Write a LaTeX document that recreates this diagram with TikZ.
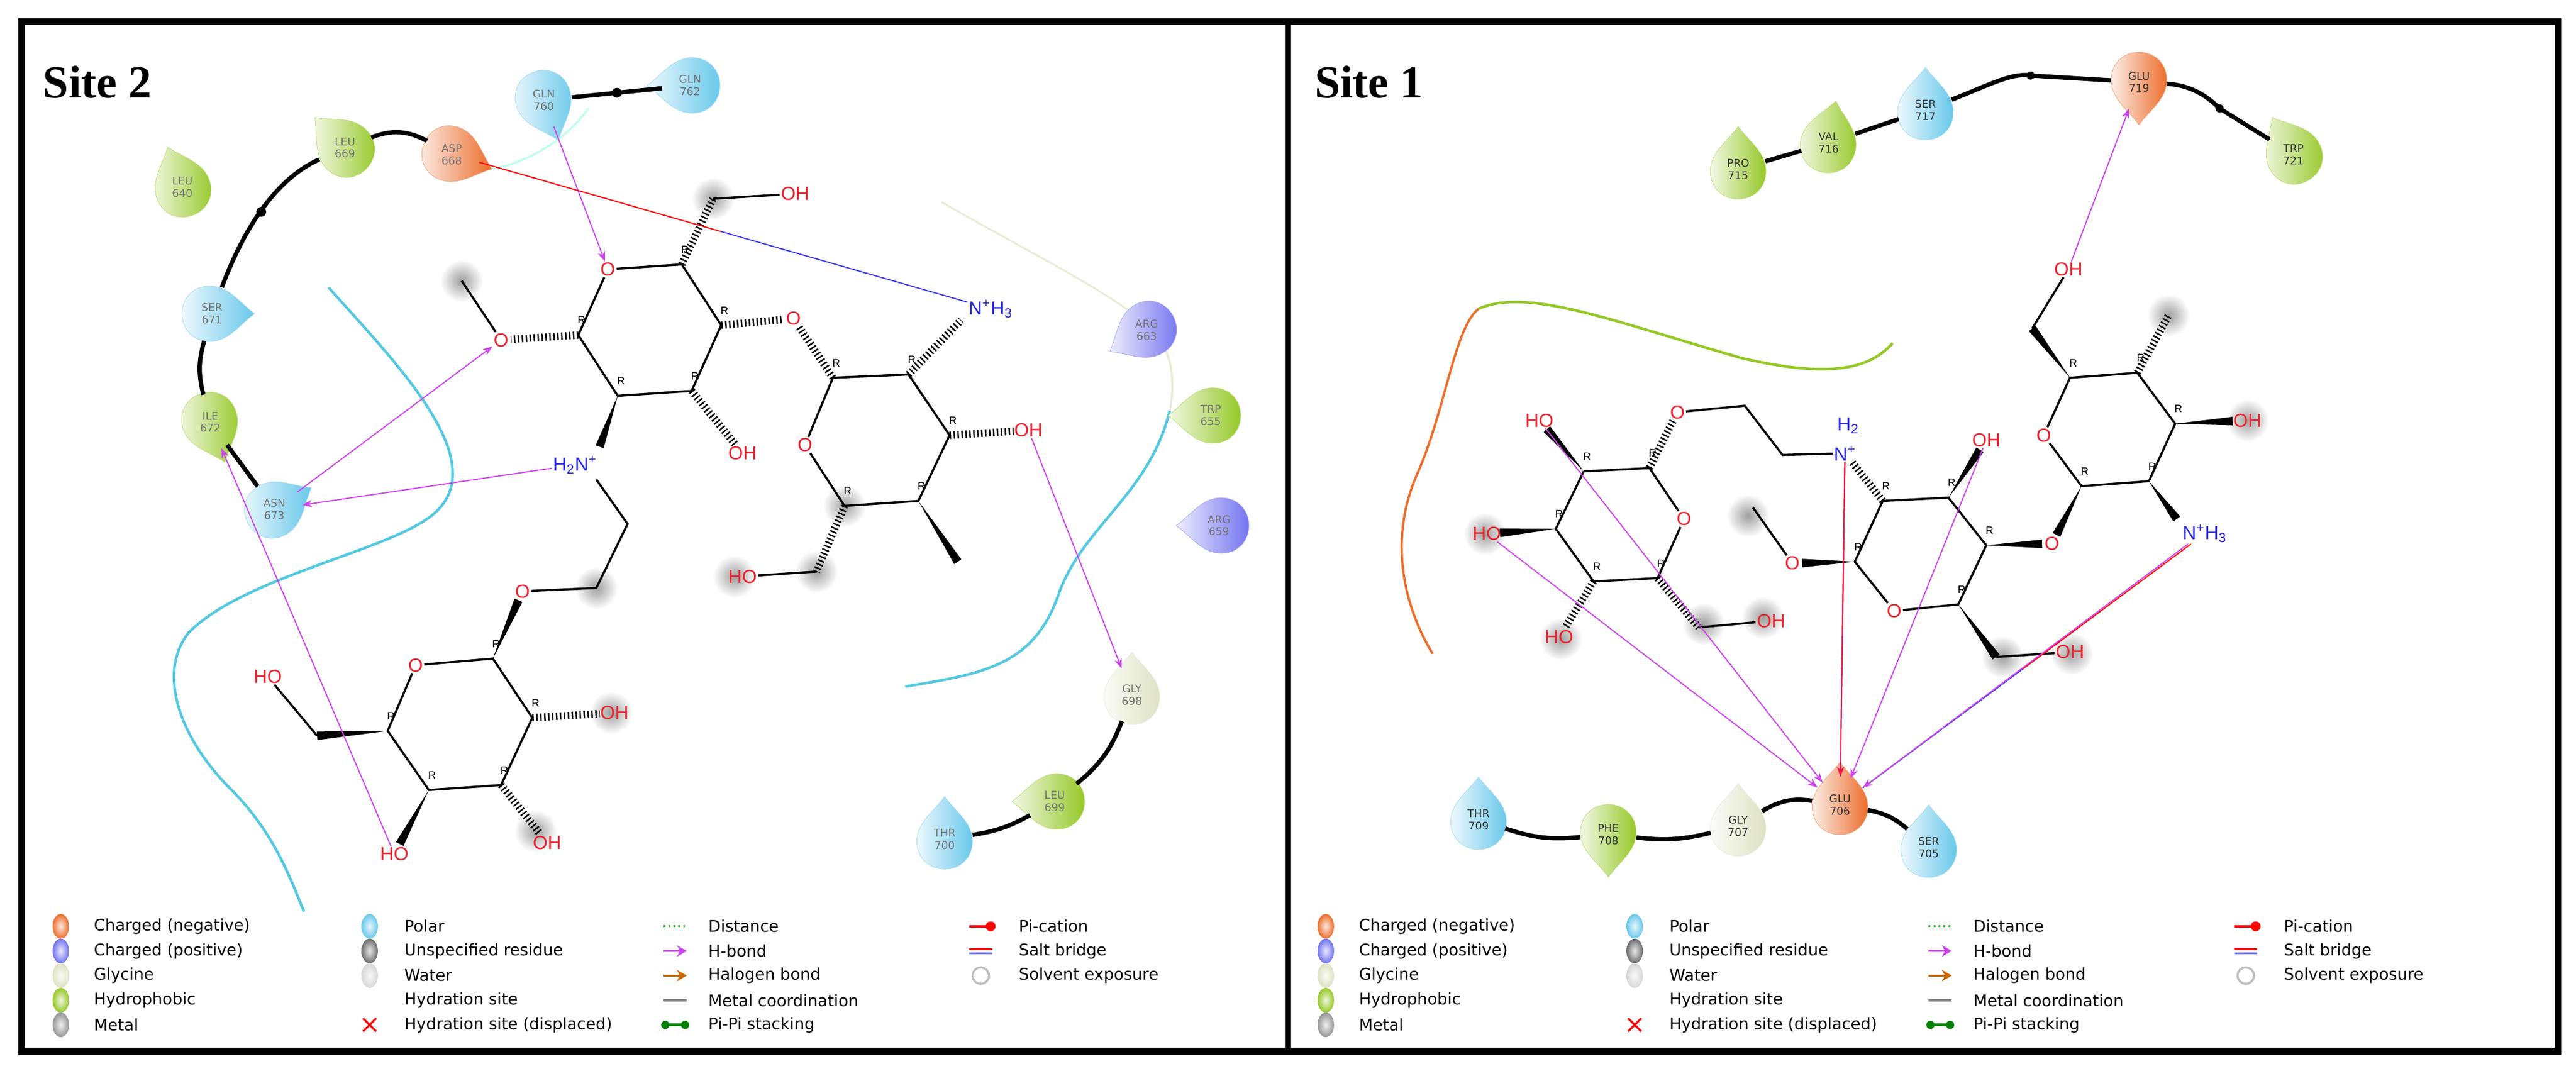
\documentclass[tikz,border=0pt]{standalone}
\usepackage{fontspec}
\setmainfont{Liberation Serif}
\newfontfamily\sansf{Liberation Sans}
\newfontfamily\lgf{DejaVu Sans}
\usetikzlibrary{calc,arrows.meta}
\definecolor{cneg}{RGB}{235,110,45}
\definecolor{cpos}{RGB}{115,115,240}
\definecolor{cgly}{RGB}{222,226,195}
\definecolor{chyd}{RGB}{150,200,40}
\definecolor{cpol}{RGB}{105,200,235}
\definecolor{cuns}{RGB}{110,110,110}
\definecolor{cwat}{RGB}{215,215,215}
\definecolor{cmet}{RGB}{150,150,150}
\definecolor{hb}{RGB}{205,70,235}
\definecolor{ored}{RGB}{235,35,45}
\definecolor{nblue}{RGB}{35,35,225}
\definecolor{solc}{RGB}{85,200,225}
\tikzset{
 atom/.style={font=\sansf\fontsize{11.5}{11.5}\selectfont, inner sep=0.6pt},
 ox/.style={atom,text=ored},
 nit/.style={atom,text=nblue},
 rl/.style={font=\sansf\fontsize{6.5}{6.5}\selectfont, inner sep=0pt},
 bond/.style={line width=1.3},
 hsh/.style={line width=4.5, dash pattern=on 0.9pt off 1.5pt},
 bb/.style={line width=2.6},
 arr/.style={hb, line width=0.7, -{Stealth[length=6,width=4.5]}},
 reslab/.style={circle, minimum size=34, inner sep=0, align=center, font=\lgf\fontsize{6.5}{7.5}\selectfont, text=black!55},
 lg/.style={anchor=west, inner sep=0, font=\lgf\fontsize{9.8}{9.8}\selectfont},
}
\newcommand\res[5]{%
 \begin{scope}[shift={#2},rotate=#3,scale=1.3]
 \shade[left color=#4!12!white, right color=#4, draw=#4!60, line width=0.3]
 (0,-20) .. controls (-5,-13) and (-13,-8) .. (-13,1) .. controls (-13,9) and (-7,14) .. (0,14)
 .. controls (7,14) and (13,9) .. (13,1) .. controls (13,-8) and (5,-13) .. (0,-20) -- cycle;
 \end{scope}
 \node[reslab] (#1) at #2 {#5};}
\newcommand\Cc[2]{\coordinate (#1) at (#2); \node[rl] at ($(#1)+(2,-9)$) {R};}
\newcommand\wdg[3]{\fill (#1) -- ($($(#2)!#3!(#1)$)!2.6pt!90:(#1)$) -- ($($(#2)!#3!(#1)$)!2.6pt!-90:(#1)$) -- cycle;}
\newcommand\hs[3]{\draw[hsh] (#1) -- ($(#2)!#3!(#1)$);}
\newcommand\halo[2]{\shade[inner color=black!38, outer color=white] (#1,#2) circle (13);}
\newcommand\sbr[2]{\draw[red, line width=0.7] (#1) -- ($(#1)!.5!(#2)$); \draw[nblue!70!cpos, line width=0.7] ($(#1)!.5!(#2)$) -- (#2);}
\newcommand\lball[3]{\shade[inner color=#1!15!white, outer color=#1, draw=none] (#2,#3) ellipse (5 and 7.5);}
\begin{document}
\begin{tikzpicture}[x=1pt,y=-1pt]
\useasboundingbox (0,0) rectangle (1568,655);
\fill[white] (0,0) rectangle (1568,655);
% ================= LEFT PANEL =================
\foreach \hx/\hy in {281/171,434/121,447/351,497/348,372/434,326/506,514/308,363/358} {\halo{\hx}{\hy}}
\draw[solc, line width=1.6] (200,175) .. controls (240,220) and (300,280) .. (265,312) .. controls (240,335) and (150,350) .. (115,385) .. controls (95,410) and (110,450) .. (140,480) .. controls (165,505) and (175,530) .. (185,555);
\draw[solc, line width=1.6] (551,418) .. controls (600,410) and (630,405) .. (645,360) .. controls (660,320) and (700,300) .. (712,250);
\draw[cgly!70, line width=1.2] (712,250) .. controls (716,230) and (712,215) .. (705,205);
\draw[cgly!70, line width=1.0] (573,123) .. controls (620,150) and (670,175) .. (695,195);
\draw[green!30!cyan!25, line width=1.2] (298,103) .. controls (320,100) and (345,85) .. (358,66);
\node[font=\bfseries\fontsize{28}{28}\selectfont, anchor=west, inner sep=0] (t2) at (26,50) {Site 2};
% ring A
\node[ox] (oA) at (370,164) {O};
\Cc{a1}{415,161} \Cc{a2}{439,198} \Cc{a3}{421,238} \Cc{a4}{376,241} \Cc{a5}{352,204}
\draw[bond] (oA) -- (a1) -- (a2) -- (a3) -- (a4) -- (a5) -- (oA);
\coordinate (ach) at (434,121);
\node[ox] (ohA) at (484,118) {OH};
\hs{a1}{ach}{0pt} \draw[bond] (ach) -- (ohA);
\node[ox] (oL) at (483,194) {O};
\hs{a2}{oL}{6pt}
\node[ox] (ohA3) at (452,276) {OH};
\hs{a3}{ohA3}{7pt}
\node[nit] (nA) at (350,283) {H\textsubscript{2}N\textsuperscript{+}};
\wdg{a4}{365,272}{0pt}
\node[ox] (oM) at (305,207) {O};
\hs{a5}{oM}{6pt}
\coordinate (me1) at (281,171);
\draw[bond] (oM) -- (me1);
% ring B
\node[ox] (oB) at (490,271) {O};
\Cc{b1}{507,230} \Cc{b2}{553,228} \Cc{b3}{578,265} \Cc{b4}{559,305} \Cc{b5}{514,308}
\draw[bond] (oB) -- (b1) -- (b2) -- (b3) -- (b4) -- (b5) -- (oB);
\hs{b1}{oL}{6pt}
\node[nit] (nB) at (603,188) {N\textsuperscript{+}H\textsubscript{3}};
\hs{b2}{585,195}{0pt}
\node[ox] (ohB) at (626,262) {OH};
\hs{b3}{ohB}{9pt}
\wdg{b4}{583,342}{0pt}
\coordinate (bch) at (497,348);
\hs{b5}{bch}{0pt}
\node[ox] (hoB) at (452,351) {HO};
\draw[bond] (bch) -- (hoB);
% chain + ring C
\coordinate (ch1) at (382,319); \coordinate (ch2) at (363,358);
\node[ox] (oC) at (318,360) {O};
\draw[bond] (363,292) -- (ch1) -- (ch2) -- (oC);
\node[ox] (oRC) at (253,405) {O};
\Cc{c1}{300,401} \Cc{c2}{324,437} \Cc{c3}{305,478} \Cc{c4}{261,481} \Cc{c5}{236,445}
\draw[bond] (oRC) -- (c1) -- (c2) -- (c3) -- (c4) -- (c5) -- (oRC);
\wdg{c1}{oC}{6pt}
\coordinate (cch) at (193,448);
\wdg{c5}{cch}{0pt}
\node[ox] (hoC6) at (163,412) {HO};
\draw[bond] (cch) -- (hoC6);
\node[ox] (hoC4) at (240,520) {HO};
\wdg{c4}{hoC4}{7pt}
\node[ox] (ohC3) at (333,513) {OH};
\hs{c3}{ohC3}{7pt}
\node[ox] (ohC2) at (374,434) {OH};
\hs{c2}{ohC2}{9pt}
% residues left
\res{g760}{(331,61)}{200}{cpol}{GLN\\760}
\res{g762}{(420,52)}{90}{cpol}{GLN\\762}
\res{l669}{(210,90)}{45}{chyd}{LEU\\669}
\res{a668}{(275,94)}{250}{cneg}{ASP\\668}
\res{l640}{(111,114)}{20}{chyd}{LEU\\640}
\res{s671}{(129,191)}{270}{cpol}{SER\\671}
\res{i672}{(128,257)}{200}{chyd}{ILE\\672}
\res{n673}{(167,310)}{300}{cpol}{ASN\\673}
\res{r663}{(698,201)}{120}{cpos}{ARG\\663}
\res{w655}{(737,253)}{90}{chyd}{TRP\\655}
\res{r659}{(742,320)}{90}{cpos}{ARG\\659}
\res{g698}{(689,423)}{0}{cgly}{GLY\\698}
\res{l699}{(642,488)}{90}{chyd}{LEU\\699}
\res{t700}{(575,511)}{0}{cpol}{THR\\700}
\draw[bb] (g760) -- (g762); \fill ($(g760)!.5!(g762)$) circle (3);
\draw[bb] (l669) to[bend left=25] (a668);
\draw[bb] (l669) .. controls (170,108) and (150,135) .. (s671); \fill (159,129) circle (3);
\draw[bb] (s671) to[bend right=15] (i672);
\draw[bb] (i672) -- (n673);
\draw[bb] (g698) to[bend left=15] (l699);
\draw[bb] (l699) to[bend left=10] (t700);
% interactions left
\draw[arr] (g760) -- (oA);
\sbr{a668}{nB}
\draw[arr] (nA) -- (n673);
\draw[arr] (n673) -- (oM);
\draw[arr] (hoC4) -- (i672);
\draw[arr] (ohB) -- (g698);
% ================= RIGHT PANEL =================
\foreach \hx/\hy in {1320/192,1037/380,1073/376,950/389,1219/400,1261/398,1368/256,1064/314,904/325} {\halo{\hx}{\hy}}
\draw[cneg, line width=1.4] (900,188) .. controls (885,200) and (880,250) .. (862,290) .. controls (845,330) and (855,370) .. (872,398);
\draw[chyd, line width=1.6] (900,188) .. controls (930,175) and (980,195) .. (1060,218) .. controls (1120,232) and (1140,222) .. (1152,209);
\node[font=\bfseries\fontsize{28}{28}\selectfont, anchor=west, inner sep=0] (t1) at (800,50) {Site 1};
% ring D
\node[ox] (oD) at (1025,316) {O};
\Cc{d1}{964,287} \Cc{d2}{1004,285} \Cc{d3}{1009,352} \Cc{d4}{970,354} \Cc{d5}{947,322}
\draw[bond] (d1) -- (d2) -- (oD) -- (d3) -- (d4) -- (d5) -- (d1);
\node[ox] (hoD1) at (937,256) {HO};
\wdg{d1}{hoD1}{7pt}
\node[ox] (oE) at (1021,251) {O};
\hs{d2}{oE}{6pt}
\coordinate (e1a) at (1062,247); \coordinate (e1b) at (1085,277);
\node[nit] (nE) at (1123,276) {N\textsuperscript{+}};
\node[nit] (h2E) at (1125,259) {H\textsubscript{2}};
\draw[bond] (oE) -- (e1a) -- (e1b) -- (nE);
\coordinate (dch) at (1034,382);
\hs{d3}{dch}{0pt}
\node[ox] (ohD) at (1078,378) {OH};
\draw[bond] (dch) -- (ohD);
\node[ox] (hoD4) at (949,388) {HO};
\hs{d4}{hoD4}{7pt}
\node[ox] (hoD5) at (905,325) {HO};
\wdg{d5}{hoD5}{8pt}
% ring E
\node[ox] (oE2) at (1153,372) {O};
\Cc{e1}{1146,305} \Cc{e2}{1186,303} \Cc{e3}{1209,332} \Cc{e4}{1192,368} \Cc{e5}{1129,342}
\draw[bond] (e1) -- (e2) -- (e3) -- (e4) -- (oE2) -- (e5) -- (e1);
\hs{e1}{nE}{6pt}
\node[ox] (ohE2) at (1209,268) {OH};
\wdg{e2}{ohE2}{7pt}
\node[ox] (oF) at (1249,331) {O};
\wdg{e3}{oF}{6pt}
\coordinate (ech) at (1215,400);
\wdg{e4}{ech}{0pt}
\node[ox] (ohE4) at (1260,397) {OH};
\draw[bond] (ech) -- (ohE4);
\node[ox] (oMe) at (1091,343) {O};
\wdg{e5}{oMe}{6pt}
\coordinate (me2) at (1067,309);
\draw[bond] (oMe) -- (me2);
% ring F
\node[ox] (oRF) at (1244,265) {O};
\Cc{f1}{1260,230} \Cc{f2}{1301,227} \Cc{f3}{1324,258} \Cc{f4}{1308,293} \Cc{f5}{1267,296}
\draw[bond] (oRF) -- (f1) -- (f2) -- (f3) -- (f4) -- (f5) -- (oRF);
\coordinate (fch) at (1237,200);
\wdg{f1}{fch}{0pt}
\node[ox] (ohF) at (1259,164) {OH};
\draw[bond] (fch) -- (ohF);
\hs{f2}{1320,192}{0pt}
\node[ox] (ohF3) at (1368,256) {OH};
\wdg{f3}{ohF3}{9pt}
\node[nit] (nF) at (1342,325) {N\textsuperscript{+}H\textsubscript{3}};
\wdg{f4}{1325,316}{0pt}
\wdg{f5}{oF}{6pt}
% residues right
\begin{scope}[reslab/.append style={text=black!80}]
\res{p715}{(1058,103)}{0}{chyd}{PRO\\715}
\res{v716}{(1113,87)}{350}{chyd}{VAL\\716}
\res{s717}{(1172,67)}{0}{cpol}{SER\\717}
\res{e719}{(1302,50)}{180}{cneg}{GLU\\719}
\res{w721}{(1396,94)}{30}{chyd}{TRP\\721}
\res{t709}{(900,499)}{0}{cpol}{THR\\709}
\res{f708}{(979,508)}{180}{chyd}{PHE\\708}
\res{g707}{(1058,503)}{0}{cgly}{GLY\\707}
\res{e706}{(1120,490)}{0}{cneg}{GLU\\706}
\res{s705}{(1174,516)}{0}{cpol}{SER\\705}
\end{scope}
\draw[bb] (p715) -- (v716); \draw[bb] (v716) -- (s717);
\draw[bb] (s717) .. controls (1210,52) and (1225,44) .. (1236,46) -- (e719); \fill (1236,46) circle (2.5);
\draw[bb] (e719) .. controls (1335,52) and (1345,60) .. (1351,66) -- (w721); \fill (1351,66) circle (2.5);
\draw[bb] (t709) to[bend right=12] (f708);
\draw[bb] (f708) to[bend right=10] (g707);
\draw[bb] (g707) to[bend left=20] (e706);
\draw[bb] (e706) to[bend left=15] (s705);
% interactions right
\draw[arr] (ohF) -- (e719);
\draw[arr] (hoD1) -- (e706);
\draw[arr] (hoD5) -- (e706);
\draw[arr] (ohE2) -- (e706);
\sbr{nE}{e706}
\draw[arr, red!70!hb] (nE) -- (e706);
\sbr{nF}{e706}
\draw[arr] ([xshift=4pt]nF.south west) -- (e706);
% ================= LEGENDS =================
\foreach \ox in {0,770}{
 \begin{scope}[xshift=\ox]
 \foreach \c/\y in {cneg/564,cpos/579,cgly/594,chyd/609,cmet/624} {\lball{\c}{37}{\y}}
 \foreach \c/\y in {cpol/564,cuns/579,cwat/594} {\lball{\c}{225}{\y}}
 \draw[red, line width=1.2] (221,620) -- (229,628) (221,628) -- (229,620);
 \draw[green!70!black, dotted, line width=1] (404,564) -- (418,564);
 \draw[hb, line width=1.2, -{Stealth[length=6,width=7]}] (404,579) -- (418,579);
 \draw[orange!80!black, line width=1.2, -{Stealth[length=6,width=7]}] (404,594) -- (418,594);
 \draw[gray, line width=1.5] (404,609) -- (418,609);
 \draw[green!50!black, line width=1.5] (404,624) -- (418,624); \fill[green!50!black] (405,624) circle (2.5) (417,624) circle (2.5);
 \draw[red, line width=1.5] (590,564) -- (604,564); \fill[red] (603,564) circle (3);
 \draw[red, line width=1.2] (590,578) -- (604,578); \draw[cpos, line width=1.2] (590,580.5) -- (604,580.5);
 \draw[gray!50, line width=1.3] (597,594) circle (5);
 \node[lg] (lA\ox) at (57,564) {Charged (negative)};
 \node[lg] (lB\ox) at (57,579) {Charged (positive)};
 \node[lg] (lC\ox) at (57,594) {Glycine};
 \node[lg] (lD\ox) at (57,609) {Hydrophobic};
 \node[lg] (lE\ox) at (57,624) {Metal};
 \node[lg] (lF\ox) at (246,564) {Polar};
 \node[lg] (lG\ox) at (246,579) {Unspecified residue};
 \node[lg] (lH\ox) at (246,594) {Water};
 \node[lg] (lI\ox) at (246,609) {Hydration site};
 \node[lg] (lJ\ox) at (246,624) {Hydration site (displaced)};
 \node[lg] (lK\ox) at (431,564) {Distance};
 \node[lg] (lL\ox) at (431,579) {H-bond};
 \node[lg] (lM\ox) at (431,594) {Halogen bond};
 \node[lg] (lN\ox) at (431,609) {Metal coordination};
 \node[lg] (lO\ox) at (431,624) {Pi-Pi stacking};
 \node[lg] (lP\ox) at (620,564) {Pi-cation};
 \node[lg] (lQ\ox) at (620,579) {Salt bridge};
 \node[lg] (lR\ox) at (620,594) {Solvent exposure};
 \end{scope}}
% frames
\draw[line width=4] (13,13) rectangle (1557,640);
\draw[line width=3] (784,13) -- (784,640);
\end{tikzpicture}
\end{document}
